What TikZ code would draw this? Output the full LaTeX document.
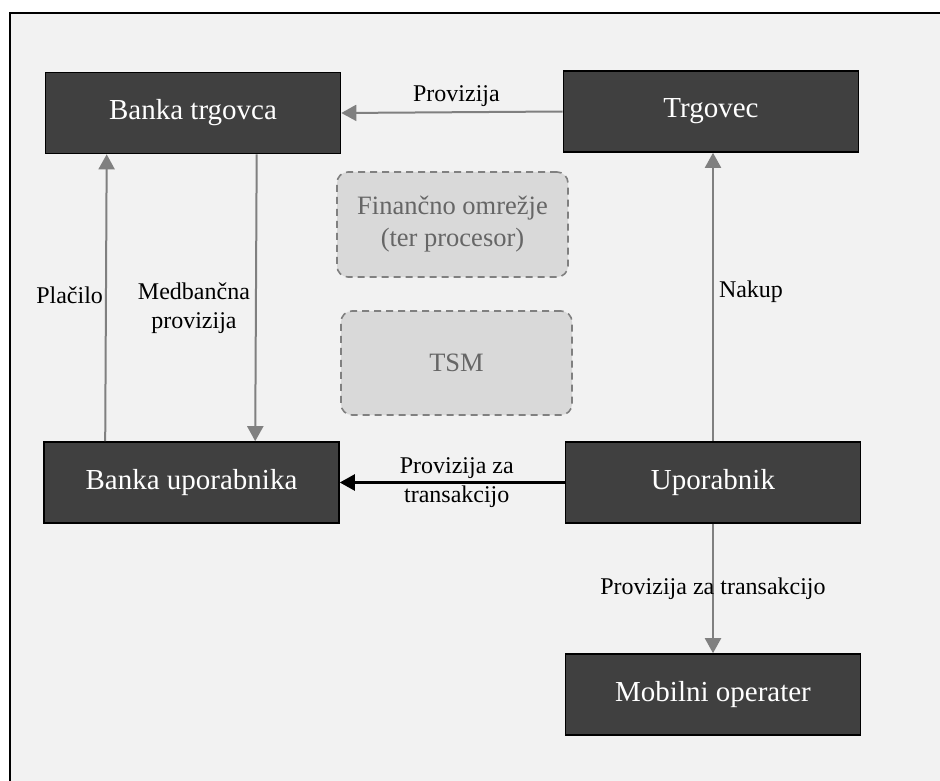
\documentclass[tikz,border=0pt]{standalone}
\usepackage{fontspec}
\setmainfont{Liberation Serif}
\usetikzlibrary{arrows.meta}
\definecolor{pagebg}{HTML}{F2F2F2}
\definecolor{boxfill}{HTML}{404040}
\definecolor{ghostfill}{HTML}{D9D9D9}
\definecolor{ghosttext}{HTML}{666666}
\definecolor{flowgray}{HTML}{808080}
\begin{document}
\begin{tikzpicture}[x=1pt,y=-1pt,
  party/.style={draw=black, line width=1.6pt, fill=boxfill, text=white,
    minimum width=295pt, minimum height=81pt, inner sep=0pt,
    font=\fontsize{29}{33}\selectfont},
  ghost/.style={draw=flowgray, dashed, dash pattern=on 7pt off 5pt, line width=1.6pt,
    fill=ghostfill, text=ghosttext, rounded corners=11pt,
    minimum width=231pt, minimum height=105pt, inner sep=0pt, align=center,
    font=\fontsize{26.5}{32}\selectfont},
  flow/.style={draw=flowgray, line width=2pt,
    -{Triangle[length=15pt,width=16pt]}},
  money/.style={draw=black, line width=2.4pt,
    -{Triangle[length=15pt,width=16pt]}},
  tag/.style={text=black, font=\fontsize{24}{29}\selectfont, inner sep=0pt, align=center}]

\useasboundingbox (0,0) rectangle (940,781);
% page background and its frame
\fill[pagebg] (10,13) rectangle (940,781);
\draw[line width=2.2pt, black] (10,781) -- (10,13) -- (940,13);

% parties
\node[party] (bt) at (193,113) {Banka trgovca};
\node[party] (tr) at (711,111.5) {Trgovec};
\node[party] (bu) at (191.5,482.5) {Banka uporabnika};
\node[party] (up) at (713,482.5) {Uporabnik};
\node[party] (mo) at (713,694.5) {Mobilni operater};

% intermediaries
\node[ghost] (fin) at (452.5,224.5) {Finančno omrežje\\(ter procesor)};
\node[ghost, minimum height=104pt] (tsm) at (456.5,363) {TSM};

% flows
\draw[flow] (tr.west) -- (bt.east)
  node[tag, pos=0.48, above=5pt] {Provizija};
\draw[flow] ([xshift=62pt]bu.north west) -- ([xshift=62pt]bt.south west)
  node[tag, pos=0.51, left=2pt] {Plačilo};
\draw[flow] ([xshift=212pt]bt.south west) -- ([xshift=212pt]bu.north west)
  node[tag, pos=0.537, left=5pt] {Medbančna\\provizija};
\draw[flow] (up.north) -- (up.north |- tr.south)
  node[tag, pos=0.52, right=5pt] {Nakup};
\draw[money] (up.west) -- (bu.east)
  node[tag, pos=0.48] {Provizija za\\transakcijo};
\draw[flow] (up.south) -- (mo.north)
  node[tag, pos=0.5] {Provizija za transakcijo};

\end{tikzpicture}
\end{document}
